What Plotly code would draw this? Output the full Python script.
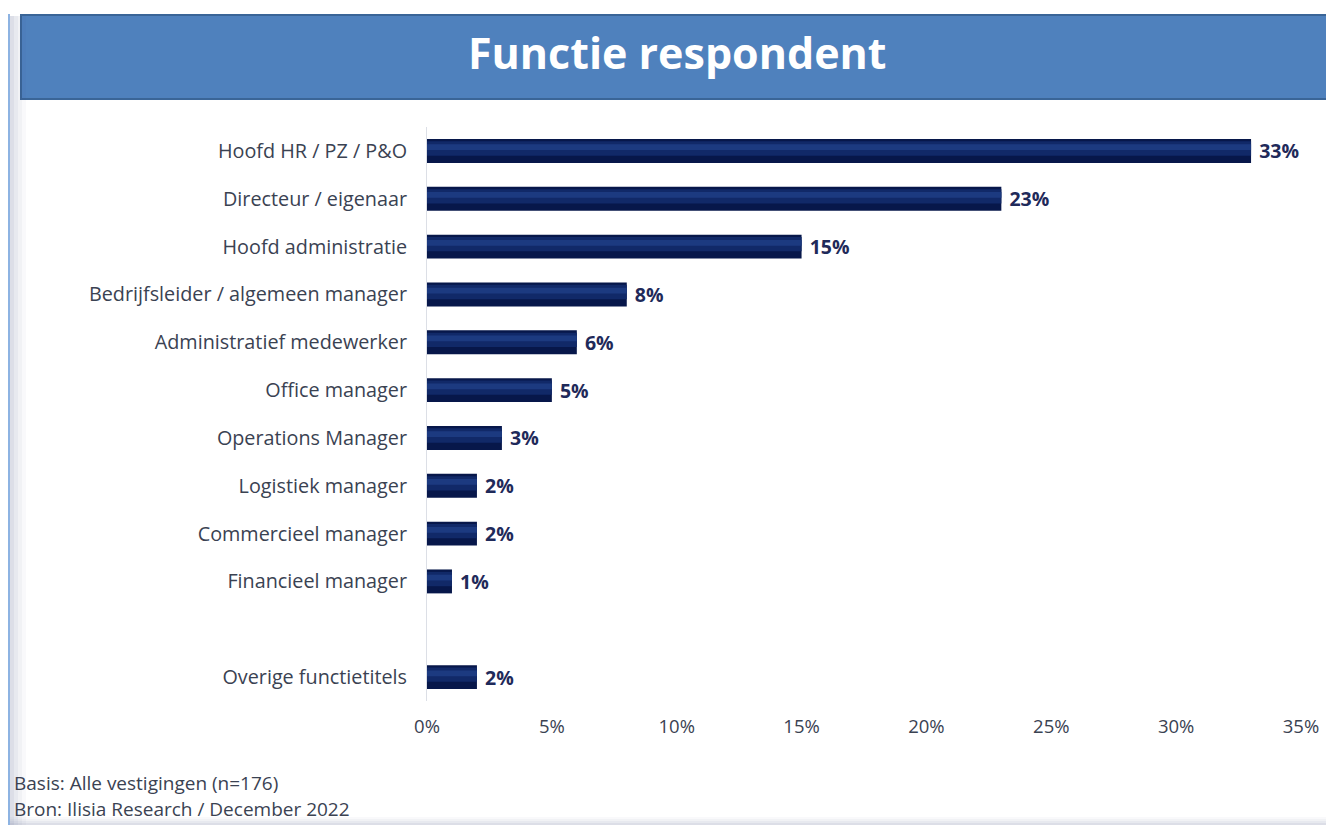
import plotly.graph_objects as go

categories = [
    "Hoofd HR / PZ / P&O",
    "Directeur / eigenaar",
    "Hoofd administratie",
    "Bedrijfsleider / algemeen manager",
    "Administratief medewerker",
    "Office manager",
    "Operations Manager",
    "Logistiek manager",
    "Commercieel manager",
    "Financieel manager",
    " ",
    "Overige functietitels",
]
values = [33, 23, 15, 8, 6, 5, 3, 2, 2, 1, None, 2]
xticks = [0, 5, 10, 15, 20, 25, 30, 35]
xtick_labels = ["0%", "5%", "10%", "15%", "20%", "25%", "30%", "35%"]

# page is drawn with an 8px body margin, so the figure is a bit smaller
OFF = 8
W, H = 1326, 817
L, R, T, B = 419, 33, 119, 124
PW, PH = W - L - R, H - T - B


def px(x):
    return (x - OFF - L) / PW


def py(y):
    return (H - B - (y - OFF)) / PH


FONT = "Open Sans"
TXT = "#3a4252"

fig = go.Figure()
fig.add_trace(go.Bar(
    y=categories, x=values, orientation="h", width=0.5,
    marker=dict(color="#07174a", line=dict(width=0)),
    text=[f" {v}%" if v is not None else "" for v in values],
    textposition="outside", cliponaxis=False, constraintext="none",
    textfont=dict(family=FONT, size=19.5, color="#1f2a5a", weight="bold"),
    hoverinfo="skip",
))
# lighter bands for the glossy look of the bars
fig.add_trace(go.Bar(
    y=categories, x=values, orientation="h", width=0.3, offset=-0.2,
    marker=dict(color="#112968", line=dict(width=0)),
    hoverinfo="skip",
))
fig.add_trace(go.Bar(
    y=categories, x=values, orientation="h", width=0.12, offset=-0.14,
    marker=dict(color="#1c3a80", line=dict(width=0)),
    hoverinfo="skip",
))

shapes = [
    # title banner
    dict(type="rect", xref="paper", yref="paper",
         x0=px(21), x1=px(1330), y0=py(99), y1=py(15),
         fillcolor="#4f81bd", line=dict(color="#3a6597", width=2), layer="below"),
    # left frame line
    dict(type="line", xref="paper", yref="paper",
         x0=px(9), x1=px(9), y0=py(825), y1=py(14),
         line=dict(color="#8db3e2", width=2)),
]
for i, a in enumerate([0.18, 0.12, 0.07, 0.03]):
    shapes.append(dict(type="rect", xref="paper", yref="paper",
                       x0=px(10 + i * 4), x1=px(14 + i * 4), y0=py(825), y1=py(16),
                       fillcolor=f"rgba(60,70,120,{a})", line=dict(width=0)))
    shapes.append(dict(type="rect", xref="paper", yref="paper",
                       x0=px(1332 - i * 2), x1=px(1334 - i * 2), y0=py(825), y1=py(100),
                       fillcolor=f"rgba(60,70,120,{a})", line=dict(width=0)))
    shapes.append(dict(type="rect", xref="paper", yref="paper",
                       x0=px(10), x1=px(1334), y0=py(825 - i * 2), y1=py(823 - i * 2),
                       fillcolor=f"rgba(60,70,120,{a})", line=dict(width=0)))

annotations = [
    dict(text="<b>Functie respondent</b>", xref="paper", yref="paper",
         x=px(677), y=py(53), xanchor="center", yanchor="middle", showarrow=False,
         font=dict(family=FONT, size=43, color="white")),
    dict(text="Basis: Alle vestigingen (n=176)", xref="paper", yref="paper",
         x=px(12), y=py(783), xanchor="left", yanchor="middle", showarrow=False,
         font=dict(family=FONT, size=19, color=TXT)),
    dict(text="Bron: Ilisia Research / December 2022", xref="paper", yref="paper",
         x=px(12), y=py(809), xanchor="left", yanchor="middle", showarrow=False,
         font=dict(family=FONT, size=19, color=TXT)),
]

fig.update_layout(
    width=W, height=H,
    margin=dict(l=L, r=R, t=T, b=B),
    paper_bgcolor="white", plot_bgcolor="white",
    barmode="overlay", showlegend=False,
    shapes=shapes, annotations=annotations,
    xaxis=dict(range=[0, 35], tickmode="array", tickvals=xticks, ticktext=xtick_labels,
               showgrid=False, zeroline=False, showline=False,
               ticks="outside", ticklen=9, tickcolor="rgba(0,0,0,0)",
               tickfont=dict(family=FONT, size=18.5, color=TXT)),
    yaxis=dict(categoryorder="array", categoryarray=categories, autorange="reversed",
               showgrid=False, zeroline=False,
               showline=True, linecolor="#dcdfe6", linewidth=1,
               ticks="outside", ticklen=15, tickcolor="rgba(0,0,0,0)",
               tickfont=dict(family=FONT, size=19.8, color=TXT)),
)

fig.write_html("out.html")
